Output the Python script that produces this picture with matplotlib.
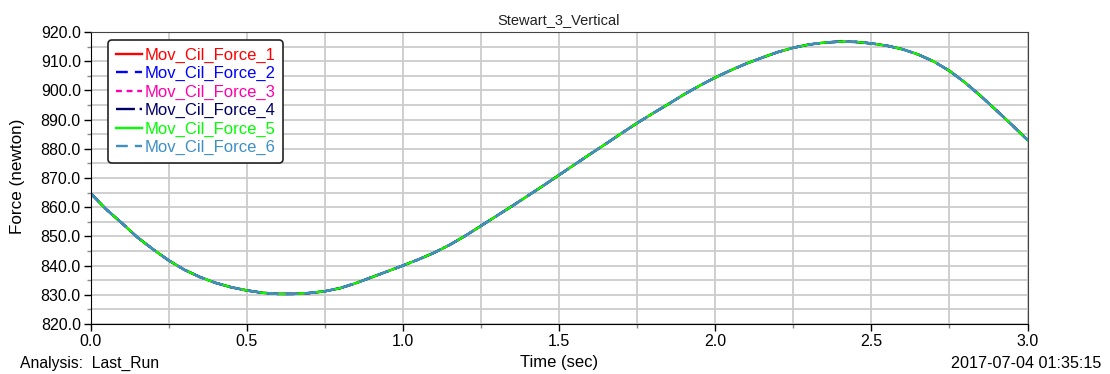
import matplotlib
matplotlib.use("Agg")
import matplotlib.pyplot as plt
from matplotlib.ticker import MultipleLocator, FormatStrFormatter

plt.rcParams['font.family'] = ['Liberation Sans', 'DejaVu Sans']

# Simulation output: time (sec) and cylinder force (newton)
time_s = [0.00, 0.05, 0.10, 0.15, 0.20, 0.25, 0.30, 0.35, 0.40, 0.45,
          0.50, 0.55, 0.60, 0.65, 0.70, 0.75, 0.80, 0.85, 0.90, 0.95,
          1.00, 1.05, 1.10, 1.15, 1.20, 1.25, 1.30, 1.35, 1.40, 1.45,
          1.50, 1.55, 1.60, 1.65, 1.70, 1.75, 1.80, 1.85, 1.90, 1.95,
          2.00, 2.05, 2.10, 2.15, 2.20, 2.25, 2.30, 2.35, 2.40, 2.45,
          2.50, 2.55, 2.60, 2.65, 2.70, 2.75, 2.80, 2.85, 2.90, 2.95, 3.00]
force_n = [864.8, 859.3, 854.6, 849.7, 845.6, 841.8, 838.6, 836.1, 834.1, 832.6,
           831.5, 830.7, 830.3, 830.3, 830.6, 831.2, 832.3, 834.0, 836.0, 838.0,
           840.0, 842.1, 844.4, 847.1, 850.2, 853.6, 857.0, 860.4, 863.9, 867.4,
           871.0, 874.6, 878.2, 881.7, 885.3, 888.8, 892.1, 895.3, 898.6, 901.6,
           904.4, 906.9, 909.2, 911.2, 913.1, 914.6, 915.7, 916.4, 916.7, 916.6,
           916.1, 915.3, 914.1, 912.3, 909.9, 906.7, 902.7, 898.1, 893.2, 888.2, 883.0]

series_names = ["Mov_Cil_Force_1", "Mov_Cil_Force_2", "Mov_Cil_Force_3",
                "Mov_Cil_Force_4", "Mov_Cil_Force_5", "Mov_Cil_Force_6"]
series_values = [force_n] * 6

colors = ["#ff0000", "#0000ff", "#ff00aa", "#000066", "#00ff00", "#3d8fc4"]
dashes = [None, (5, 3), (2.5, 2), (8, 2, 1, 2), None, (5, 3)]

fig = plt.figure(figsize=(11.1, 3.74), dpi=100)
ax = fig.add_axes([90.5 / 1110, 50 / 374, 937 / 1110, 292 / 374])

for name, vals, c, d in zip(series_names, series_values, colors, dashes):
    line, = ax.plot(time_s, vals, color=c, lw=1.7, label=name)
    if d is not None:
        line.set_dashes(d)

ax.set_xlim(0.0, 3.0)
ax.set_ylim(820.0, 920.0)
ax.xaxis.set_major_locator(MultipleLocator(0.5))
ax.xaxis.set_minor_locator(MultipleLocator(0.25))
ax.yaxis.set_major_locator(MultipleLocator(10))
ax.yaxis.set_minor_locator(MultipleLocator(5))
ax.xaxis.set_major_formatter(FormatStrFormatter('%.1f'))
ax.yaxis.set_major_formatter(FormatStrFormatter('%.1f'))

ax.grid(True, which='both', color='#cccccc', lw=1.3)
ax.set_axisbelow(True)
ax.tick_params(which='major', length=5, width=1, labelsize=11.5, color='black', pad=2)
ax.tick_params(which='minor', length=3, width=1, color='#888888')
for s in ['left', 'bottom']:
    ax.spines[s].set_color('black')
for s in ['top', 'right']:
    ax.spines[s].set_color('#444444')

ax.set_title("Stewart_3_Vertical", fontsize=10.5, pad=6, color='#222222')

fig.text(18 / 1110, 1 - 176.5 / 374, "Force (newton)", rotation=90,
         ha='center', va='center', fontsize=12.3)
fig.text(559 / 1110, 1 - 363 / 374, "Time (sec)", ha='center', va='center', fontsize=12)
fig.text(20 / 1110, 1 - 363 / 374, "Analysis:  Last_Run", ha='left', va='center', fontsize=11.3)
fig.text(1101 / 1110, 1 - 363 / 374, "2017-07-04 01:35:15", ha='right', va='center', fontsize=11.6)

leg = ax.legend(loc='upper left', bbox_to_anchor=(0.019, 0.972), fontsize=12,
                handlelength=1.6, handletextpad=0.1, labelspacing=0.2,
                borderpad=0.45, borderaxespad=0.0, fancybox=True, framealpha=1,
                edgecolor='#222222')
leg.get_frame().set_linewidth(1.2)
for txt, c in zip(leg.get_texts(), colors):
    txt.set_color(c)

fig.savefig("out.png", dpi=100)
